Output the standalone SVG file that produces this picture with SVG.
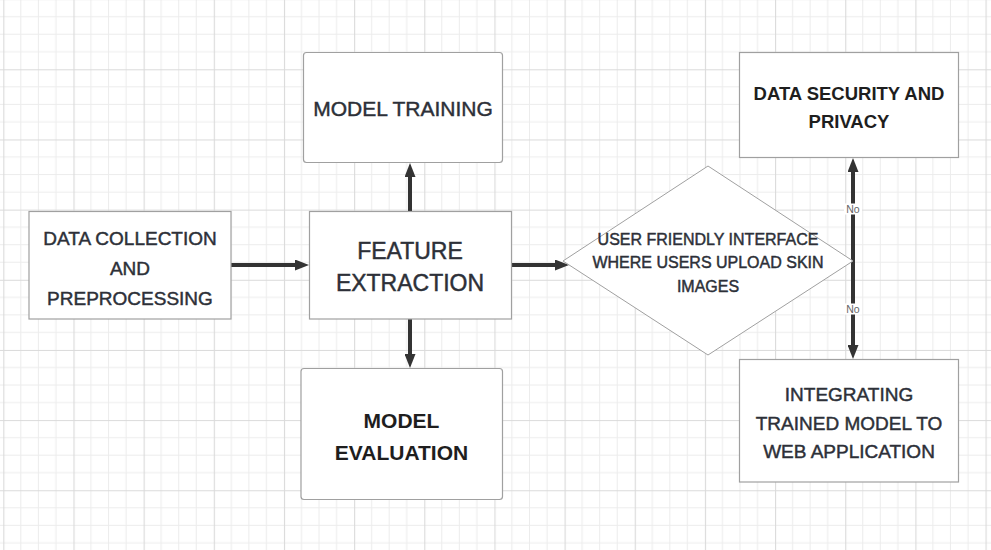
<svg xmlns="http://www.w3.org/2000/svg" width="991" height="550" viewBox="0 0 991 550">
  <defs>
    <pattern id="grid" patternUnits="userSpaceOnUse" x="3.3" y="69.3" width="70.16" height="70.16">
      <g stroke="#ececec" stroke-width="1">
        <line x1="17.54" y1="0" x2="17.54" y2="70.16"/>
        <line x1="35.08" y1="0" x2="35.08" y2="70.16"/>
        <line x1="52.62" y1="0" x2="52.62" y2="70.16"/>
        <line x1="0" y1="17.54" x2="70.16" y2="17.54"/>
        <line x1="0" y1="35.08" x2="70.16" y2="35.08"/>
        <line x1="0" y1="52.62" x2="70.16" y2="52.62"/>
      </g>
      <g stroke="#dadada" stroke-width="1.2">
        <line x1="0.5" y1="0" x2="0.5" y2="70.16"/>
        <line x1="0" y1="0.5" x2="70.16" y2="0.5"/>
      </g>
    </pattern>
    <marker id="head" markerUnits="userSpaceOnUse" markerWidth="15" markerHeight="11" refX="1" refY="5.5" orient="auto">
      <path d="M0,0 L14,5.5 L0,11 z" fill="#333333"/>
    </marker>
  </defs>
  <style>
    .box { fill: #ffffff; stroke: #a0a0a0; stroke-width: 1.2; }
    .conn { stroke: #333333; stroke-width: 4; fill: none; marker-end: url(#head); }
    .t { font-family: "Liberation Sans", Arial, sans-serif; fill: #2d3038; text-anchor: middle; stroke: #2d3038; stroke-width: 0.45; }
    .b { font-weight: bold; fill: #1e1e1e; stroke: none; }
    .lbl { font-family: "Liberation Sans", Arial, sans-serif; font-size: 10.5px; fill: #666666; text-anchor: middle; }
  </style>

  <rect x="0" y="0" width="991" height="550" fill="#ffffff"/>
  <rect x="0" y="0" width="991" height="550" fill="url(#grid)"/>

  <g id="connectors">
    <path class="conn" d="M231,265 L296,265"/>
    <path class="conn" d="M410,211 L410,176"/>
    <path class="conn" d="M410,319 L410,355"/>
    <path class="conn" d="M511,265 L556,265"/>
    <path class="conn" d="M853,261 L853,171"/>
    <path class="conn" d="M853,261 L853,346"/>
    <rect x="844" y="203.5" width="18" height="11" fill="#ffffff"/>
    <text class="lbl" x="853" y="212.5">No</text>
    <rect x="844" y="303.5" width="18" height="11" fill="#ffffff"/>
    <text class="lbl" x="853" y="312.5">No</text>
  </g>

  <g id="data-collection">
    <rect class="box" x="29" y="211.5" width="202" height="107.5"/>
    <text class="t" font-size="19" x="130" y="245">DATA COLLECTION</text>
    <text class="t" font-size="19" x="130" y="275">AND</text>
    <text class="t" font-size="19" x="130" y="305">PREPROCESSING</text>
  </g>

  <g id="feature-extraction">
    <rect class="box" x="309.5" y="211.5" width="202" height="107.5"/>
    <text class="t" font-size="23" x="410" y="259">FEATURE</text>
    <text class="t" font-size="23" x="410" y="291">EXTRACTION</text>
  </g>

  <g id="model-training">
    <rect class="box" x="303.5" y="52.5" width="199" height="110" rx="3"/>
    <text class="t" font-size="21" x="403" y="116">MODEL TRAINING</text>
  </g>

  <g id="model-evaluation">
    <rect class="box" x="301" y="368.5" width="201.5" height="131" rx="3"/>
    <text class="t b" font-size="21" x="401.5" y="428">MODEL</text>
    <text class="t b" font-size="21" x="401.5" y="460">EVALUATION</text>
  </g>

  <g id="user-interface">
    <polygon points="563,261 708,166 853,261 708,355" fill="#ffffff" stroke="#a0a0a0" stroke-width="1"/>
    <text class="t" font-size="16" x="708" y="245">USER FRIENDLY INTERFACE</text>
    <text class="t" font-size="16" x="708" y="268">WHERE USERS UPLOAD SKIN</text>
    <text class="t" font-size="16" x="708" y="291.5">IMAGES</text>
  </g>

  <g id="data-security">
    <rect class="box" x="739.5" y="52.5" width="219" height="105"/>
    <text class="t b" font-size="18.5" x="849" y="100">DATA SECURITY AND</text>
    <text class="t b" font-size="18.5" x="849" y="128">PRIVACY</text>
  </g>

  <g id="integrating">
    <rect class="box" x="739.5" y="359.5" width="219" height="122.5"/>
    <text class="t" font-size="19" x="849" y="401">INTEGRATING</text>
    <text class="t" font-size="19" x="849" y="430">TRAINED MODEL TO</text>
    <text class="t" font-size="19" x="849" y="458">WEB APPLICATION</text>
  </g>
</svg>
